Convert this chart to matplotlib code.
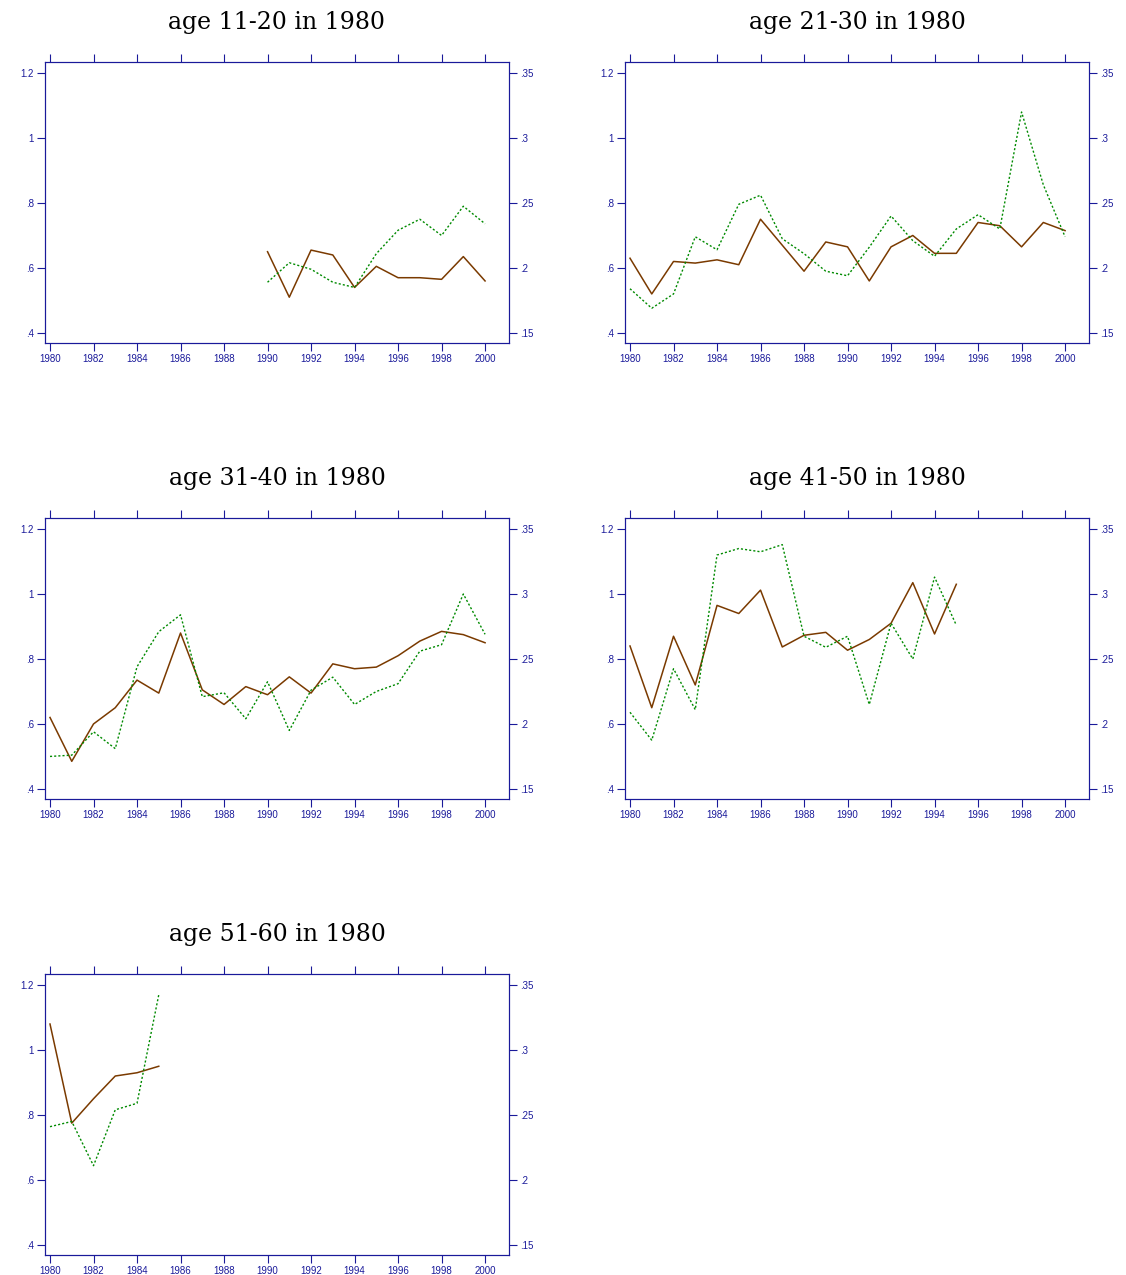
import numpy as np
import matplotlib
matplotlib.use("Agg")
import matplotlib.pyplot as plt

titles = ["age 11-20 in 1980", "age 21-30 in 1980", "age 31-40 in 1980",
          "age 41-50 in 1980", "age 51-60 in 1980"]
start_years = [1990, 1980, 1980, 1980, 1980]

# solid brown series, left axis
left_vals = [
    [.65, .51, .655, .64, .54, .605, .57, .57, .565, .635, .56],
    [.63, .52, .62, .615, .625, .61, .75, .67, .59, .68, .665, .56, .665, .70,
     .645, .645, .74, .73, .665, .74, .715],
    [.62, .485, .60, .65, .735, .695, .88, .705, .66, .715, .69, .745, .695,
     .785, .77, .775, .81, .855, .885, .875, .85],
    [.84, .65, .87, .72, .965, .94, 1.012, .837, .873, .882, .827, .86, .91,
     1.035, .877, 1.03],
    [1.08, .775, .85, .92, .93, .95],
]
# dotted green series, right axis
right_vals = [
    [.189, .204, .199, .189, .185, .211, .229, .2375, .225, .2475, .234],
    [.184, .169, .18, .224, .214, .249, .256, .2225, .211, .1975, .194, .216,
     .24, .221, .209, .23, .241, .23, .32, .264, .224],
    [.175, .176, .194, .181, .244, .271, .284, .221, .224, .204, .2325, .195,
     .226, .236, .215, .225, .231, .256, .261, .30, .269],
    [.209, .1875, .2425, .211, .33, .335, .3325, .338, .2675, .259, .2675,
     .215, .2775, .25, .313, .276],
    [.241, .245, .211, .254, .259, .3425],
]

left_ticks = [.4, .6, .8, 1.0, 1.2]
left_labels = [".4", ".6", ".8", "1", "1.2"]
right_ticks = [.15, .2, .25, .3, .35]
right_labels = [".15", ".2", ".25", ".3", ".35"]
year_ticks = list(range(1980, 2001, 2))

W, H = 1126, 1275
navy = "#1a1a9a"
fig = plt.figure(figsize=(W / 100, H / 100), dpi=100)

lefts = [45, 625]
tops = [62, 518, 974]
aw, ah = 464, 281

for i in range(5):
    x0 = lefts[i % 2]
    y0 = tops[i // 2]
    ax = fig.add_axes([x0 / W, 1 - (y0 + ah) / H, aw / W, ah / H])
    yrs = np.arange(start_years[i], start_years[i] + len(left_vals[i]))
    ax.plot(yrs, left_vals[i], color="#7a3a00", lw=1.1)
    ylo, yhi = 0.369, 1.234
    ax.set_ylim(ylo, yhi)
    ax.set_xlim(1979.77, 2001.1)
    ax.set_yticks(left_ticks)
    ax.set_yticklabels(left_labels)
    ax.set_xticks(year_ticks)
    ax.set_xticklabels([str(y) for y in year_ticks])
    ax.tick_params(axis="both", colors=navy, labelsize=7, length=6,
                   direction="out", top=True, pad=2)
    for s in ax.spines.values():
        s.set_color(navy)
    ax2 = ax.twinx()
    ax2.plot(yrs, right_vals[i], color="#008a00", lw=1.0, ls=(0, (1.5, 1.5)))
    ax2.set_ylim(0.15 + (ylo - 0.4) / 4, 0.15 + (yhi - 0.4) / 4)
    ax2.set_yticks(right_ticks)
    ax2.set_yticklabels(right_labels)
    ax2.tick_params(axis="y", colors=navy, labelsize=7, length=6,
                    direction="out", pad=2)
    for s in ax2.spines.values():
        s.set_color(navy)
    for lab in ax.get_xticklabels() + ax.get_yticklabels() + ax2.get_yticklabels():
        lab.set_family("Liberation Sans")
    ax.set_title(titles[i], fontsize=17, family="DejaVu Serif", pad=24)

fig.savefig("out.png", dpi=100)
